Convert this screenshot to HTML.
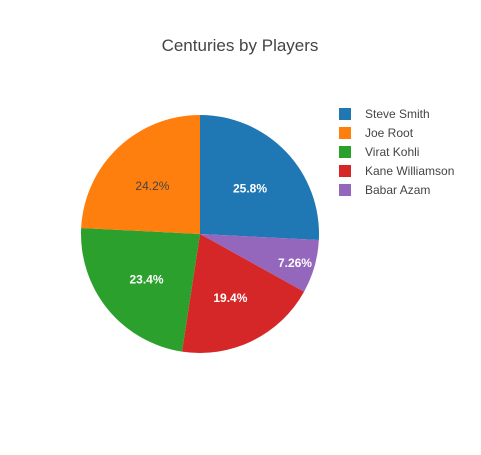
<!DOCTYPE html>
<html><head><meta charset="utf-8"><style>
body{margin:0;background:#fff;font-family:"Liberation Sans",sans-serif}
</style></head><body>
<svg width="481" height="450" xmlns="http://www.w3.org/2000/svg">
<rect width="481" height="450" fill="#fff"/>
<text x="240" y="51" text-anchor="middle" font-size="17" fill="#444">Centuries by Players</text>
<g id="slices"></g><g id="labels"></g><g id="legend"></g>
</svg>
<script>
const players = ["Steve Smith","Joe Root","Virat Kohli","Kane Williamson","Babar Azam"];
const centuries = [32,30,29,24,9];
const colors = ["#1f77b4","#ff7f0e","#2ca02c","#d62728","#9467bd"];
const drawOrder = [0,4,3,2,1];
const ns="http://www.w3.org/2000/svg";
const cx=200, cy=234, R=119;
const total=centuries.reduce((a,b)=>a+b,0);
const sl=document.getElementById('slices'), lb=document.getElementById('labels'), lg=document.getElementById('legend');
function pt(a,r){return [cx+Math.sin(a)*r, cy-Math.cos(a)*r];}
let a0=0;
drawOrder.forEach(i=>{
  const frac=centuries[i]/total, a1=a0+frac*2*Math.PI;
  const p0=pt(a0,R), p1=pt(a1,R);
  const path=document.createElementNS(ns,'path');
  path.setAttribute('d',`M${cx},${cy}L${p0[0]},${p0[1]}A${R},${R} 0 ${frac>0.5?1:0} 1 ${p1[0]},${p1[1]}Z`);
  path.setAttribute('fill',colors[i]);
  
  
  sl.appendChild(path);
  const m=(a0+a1)/2, rr=frac<0.1?R*0.83:R*0.58;
  const lp=pt(m,rr);
  const t=document.createElementNS(ns,'text');
  t.setAttribute('x',lp[0]); t.setAttribute('y',lp[1]+6);
  t.setAttribute('text-anchor','middle'); t.setAttribute('font-size','12');
  t.setAttribute('fill',i===1?'#444':'#fff');
  t.setAttribute('font-weight',i===1?'normal':'bold');
  const pct=frac*100;
  t.textContent=(pct<10?pct.toFixed(2):pct.toFixed(1))+'%';
  
  
  lb.appendChild(t);
  a0=a1;
});
players.forEach((p,i)=>{
  const y=114+i*19;
  const r=document.createElementNS(ns,'rect');
  r.setAttribute('x',339); r.setAttribute('y',y-6); r.setAttribute('width',12); r.setAttribute('height',12);
  r.setAttribute('fill',colors[i]);
  
  
  lg.appendChild(r);
  const t=document.createElementNS(ns,'text');
  t.setAttribute('x',365); t.setAttribute('y',y+4); t.setAttribute('font-size','12'); t.setAttribute('fill','#444');
  t.textContent=p;
  
  
  lg.appendChild(t);
});
</script>
</body></html>
